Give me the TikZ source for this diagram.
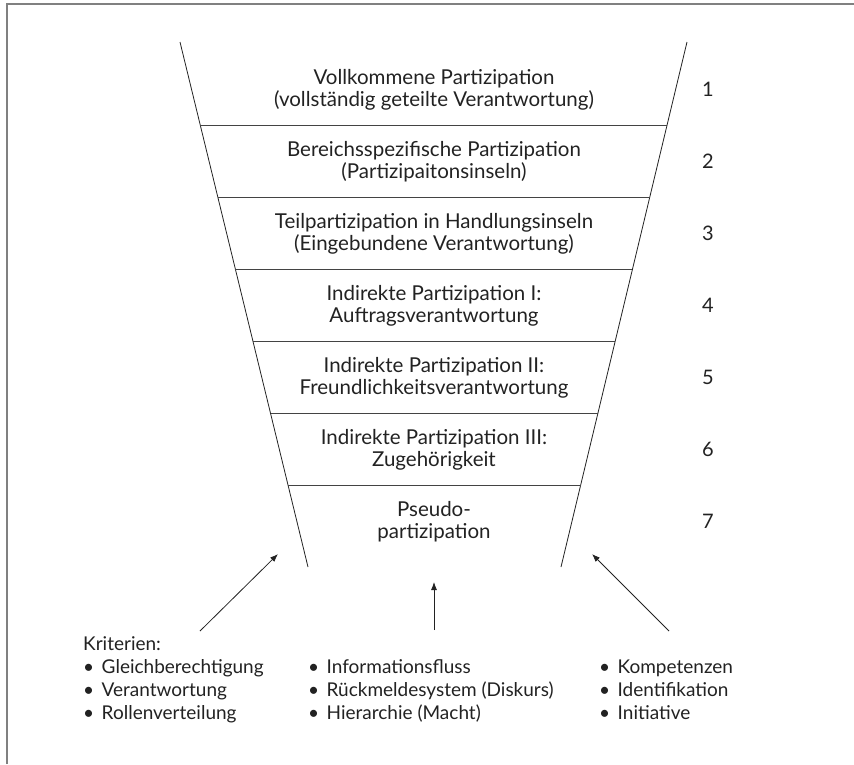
\documentclass[tikz,border=0pt]{standalone}
\usepackage{fontspec}
\setmainfont{Lato}
\usetikzlibrary{arrows.meta,calc}
\definecolor{ink}{HTML}{222222}
\definecolor{frame}{HTML}{808080}
\newcommand{\itm}[1]{\makebox[18.5pt][l]{\textbullet}#1}
\begin{document}
\begin{tikzpicture}[x=1pt,y=-1pt,
  txt/.style={text=ink,inner sep=0pt},
  tier/.style={txt,align=center,font=\fontsize{20.5}{22}\selectfont},
  num/.style={txt,font=\fontsize{20}{22}\selectfont},
  crit/.style={txt,anchor=base west,font=\fontsize{19}{23}\selectfont},
  edge/.style={draw=ink,line width=0.8pt},
  sep/.style={draw=ink!85,line width=0.8pt},
  pointer/.style={draw=ink,line width=0.8pt,-{Latex[length=8pt,width=6pt]}}]
\useasboundingbox (0,0) rectangle (854,764);
% open frame: top and left edges only
\draw[frame,line width=1.2pt] (7,764) -- (7,4) -- (854,4);
% funnel walls
\coordinate (lt) at (180,42);
\coordinate (lb) at (308,567);
\coordinate (rt) at (687,42);
\coordinate (rb) at (561,567);
\draw[edge] (lt) -- (lb);
\draw[edge] (rt) -- (rb);
% separators between the levels
\foreach \t in {0.1590,0.2962,0.4333,0.5705,0.7076,0.8448}
  \draw[sep] ($(lt)!\t!(lb)$) -- ($(rt)!\t!(rb)$);
% levels
\node[tier] (tier1) at (434,90) {Vollkommene Partizipation\\(vollständig geteilte Verantwortung)};
\node[tier] (tier2) at (434,162) {Bereichsspezifische Partizipation\\(Partizipaitonsinseln)};
\node[tier] (tier3) at (434,234) {Teilpartizipation in Handlungsinseln\\(Eingebundene Verantwortung)};
\node[tier] (tier4) at (434,306) {Indirekte Partizipation I:\\Auftragsverantwortung};
\node[tier] (tier5) at (434,378) {Indirekte Partizipation II:\\Freundlichkeitsverantwortung};
\node[tier] (tier6) at (434,450) {Indirekte Partizipation III:\\Zugehörigkeit};
\node[tier] (tier7) at (434,522) {Pseudo-\\partizipation};
% level numbers
\foreach \i/\y in {1/89,2/161,3/233,4/305,5/377,6/449,7/521}
  \node[num] (n\i) at (708,\y) {\i};
% criteria, one line per node
\node[crit] (k0) at (83,650) {Kriterien:};
\node[crit] (k1) at (83,673) {\itm{Gleichberechtigung}};
\node[crit] (k2) at (83,696) {\itm{Verantwortung}};
\node[crit] (k3) at (83,719) {\itm{Rollenverteilung}};
\node[crit] (m1) at (308,673) {\itm{Informationsfluss}};
\node[crit] (m2) at (308,696) {\itm{Rückmeldesystem (Diskurs)}};
\node[crit] (m3) at (308,719) {\itm{Hierarchie (Macht)}};
\node[crit] (r1) at (599,673) {\itm{Kompetenzen}};
\node[crit] (r2) at (599,696) {\itm{Identifikation}};
\node[crit] (r3) at (599,719) {\itm{Initiative}};
% pointers into the funnel
\coordinate (a1s) at (200,631);
\coordinate (a1e) at (278,554);
\coordinate (a2s) at (434,630);
\coordinate (a2e) at (434,582);
\coordinate (a3s) at (669,631);
\coordinate (a3e) at (592,554);
\draw[pointer] (a1s) -- (a1e);
\draw[pointer] (a2s) -- (a2e);
\draw[pointer] (a3s) -- (a3e);
\end{tikzpicture}
\end{document}
